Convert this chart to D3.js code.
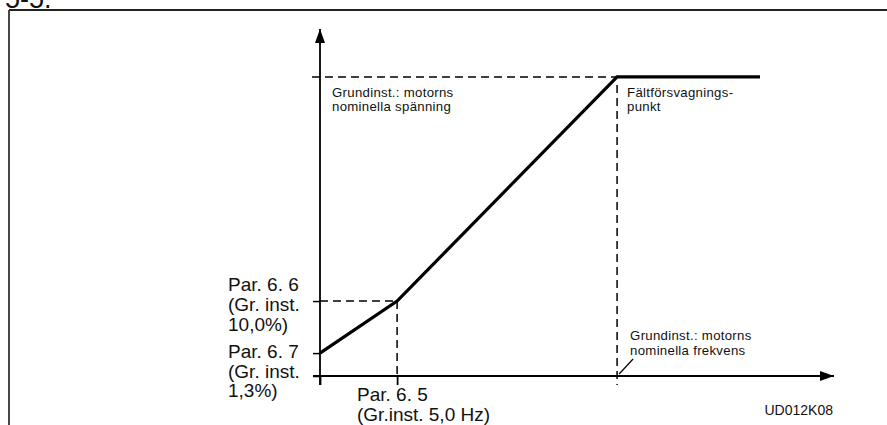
<!DOCTYPE html>
<html>
<head>
<meta charset="utf-8">
<script src="https://cdn.jsdelivr.net/npm/d3@7"></script>
<style>
  html, body { margin: 0; padding: 0; background: #fff; }
  svg { display: block; }
  text { font-family: "Liberation Sans", Arial, Helvetica, sans-serif; fill: #111; }
</style>
</head>
<body>
<svg id="chart" width="887" height="425"></svg>
<script>
// ---- data (schematic: percent of axis length) ----
const curveX = [0, 15, 57.8, 85.6];       // frequency positions: 0, Par 6.5, field weakening point, end
const curveY = [6.6, 21.6, 86.2, 86.2];   // voltage positions: Par 6.7, Par 6.6, nominal, nominal
const xTickValues = [0, 15];
const yTickValues = [0, 6.6, 21.6];
const labelPar66 = ["Par. 6. 6", "(Gr. inst.", "10,0%)"];
const labelPar67 = ["Par. 6. 7", "(Gr. inst.", "1,3%)"];
const labelPar65 = ["Par. 6. 5", "(Gr.inst. 5,0 Hz)"];
const labelNomU = ["Grundinst.: motorns", "nominella spänning"];
const labelFwp = ["Fältförsvagnings-", "punkt"];
const labelNomF = ["Grundinst.: motorns", "nominella frekvens"];
const figCode = "UD012K08";
const pageTitle = "5-5.";

const svg = d3.select("#chart");

// frame
svg.append("line").attr("x1", 9).attr("y1", 10).attr("x2", 887).attr("y2", 10)
  .attr("stroke", "#222").attr("stroke-width", 1.8);
svg.append("line").attr("x1", 9).attr("y1", 10).attr("x2", 9).attr("y2", 425)
  .attr("stroke", "#333").attr("stroke-width", 1.8);
svg.append("text").attr("x", 5).attr("y", 8).style("font-size", "27px").text(pageTitle);

// scales
const x = d3.scaleLinear().domain([0, 100]).range([320, 834]);
const y = d3.scaleLinear().domain([0, 100]).range([376, 29]);

// arrow markers
const defs = svg.append("defs");
defs.append("marker").attr("id", "arrow").attr("viewBox", "0 0 14 10")
  .attr("refX", 14).attr("refY", 5).attr("markerWidth", 14).attr("markerHeight", 10)
  .attr("markerUnits", "userSpaceOnUse").attr("orient", "auto")
  .append("path").attr("d", "M0,0 L14,5 L0,10 Z").attr("fill", "#000");

// axes (ticks through d3 axes)
const gx = svg.append("g").attr("transform", `translate(0,${y(0)})`)
  .call(d3.axisBottom(x).tickValues(xTickValues).tickSize(9).tickSizeOuter(0).tickFormat(""));
gx.select(".domain").remove();
gx.selectAll(".tick line").attr("stroke", "#000").attr("stroke-width", 1.8);

const gy = svg.append("g").attr("transform", `translate(${x(0)},0)`)
  .call(d3.axisLeft(y).tickValues(yTickValues).tickSize(7).tickSizeOuter(0).tickFormat(""));
gy.select(".domain").remove();
gy.selectAll(".tick line").attr("stroke", "#000").attr("stroke-width", 1.5);

// axis lines with arrows
svg.append("line").attr("x1", x(0)).attr("y1", y(0) + 9).attr("x2", x(0)).attr("y2", y(100))
  .attr("stroke", "#000").attr("stroke-width", 1.8).attr("marker-end", "url(#arrow)");
svg.append("line").attr("x1", x(0) - 7).attr("y1", y(0)).attr("x2", x(100)).attr("y2", y(0))
  .attr("stroke", "#000").attr("stroke-width", 1.8).attr("marker-end", "url(#arrow)");

// dashed guides
const dash = "8,5";
function dashed(x1, y1, x2, y2) {
  svg.append("line").attr("x1", x1).attr("y1", y1).attr("x2", x2).attr("y2", y2)
    .attr("stroke", "#000").attr("stroke-width", 1.5).attr("stroke-dasharray", dash);
}
dashed(x(0) - 8, y(curveY[2]), x(curveX[2]), y(curveY[2]));
dashed(x(curveX[2]), y(curveY[2]) + 8, x(curveX[2]), y(0) + 9);
dashed(x(0), y(curveY[1]), x(curveX[1]), y(curveY[1]));
dashed(x(curveX[1]), y(curveY[1]), x(curveX[1]), y(0));

// main curve
const pts = curveX.map((d, i) => [d, curveY[i]]);
svg.append("path").datum(pts)
  .attr("d", d3.line().x(d => x(d[0])).y(d => y(d[1])))
  .attr("fill", "none").attr("stroke", "#000").attr("stroke-width", 3.2)
  .attr("stroke-linejoin", "miter");

// text helper: each line as its own text element
function lines(arr, x0, y0, dy, size, spacing) {
  arr.forEach((s, i) => svg.append("text").attr("x", x0).attr("y", y0 + i * dy)
    .style("font-size", size + "px").style("letter-spacing", (spacing || 0) + "px").text(s));
}

lines(labelPar66, 228, 291, 20, 19);
lines(labelPar67, 228, 358, 19.5, 19);
lines(labelPar65, 357, 401, 19.5, 19);
lines(labelNomU, x(0) + 12, 96.5, 14, 13.2, 0.3);
lines(labelFwp, x(curveX[2]) + 10, 96.5, 14, 13.2, 0.3);
lines(labelNomF, x(curveX[2]) + 13, 340, 15, 13.2, 0.3);
svg.append("text").attr("x", 833).attr("y", 415).attr("text-anchor", "end")
  .style("font-size", "14px").text(figCode);

// leader line for nominal frequency
svg.append("line").attr("x1", x(curveX[2]) + 2).attr("y1", y(0) - 2)
  .attr("x2", x(curveX[2]) + 16).attr("y2", y(0) - 17)
  .attr("stroke", "#000").attr("stroke-width", 1.2);
</script>
</body>
</html>
